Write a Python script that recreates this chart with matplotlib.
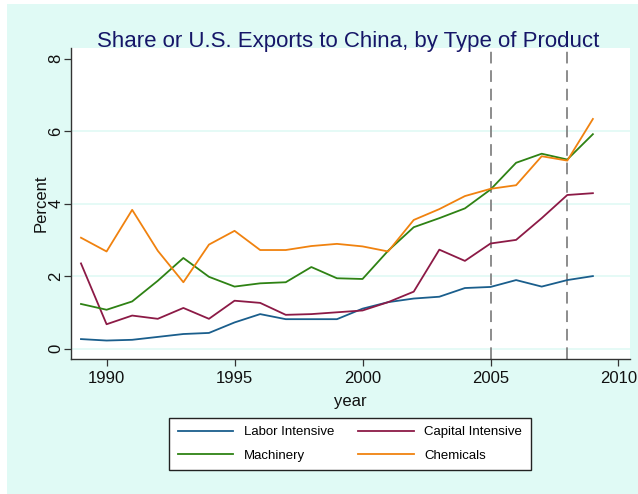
import numpy as np
from matplotlib import pyplot as plt
from matplotlib.patches import Rectangle

plt.rcParams['font.family'] = ['Liberation Sans', 'DejaVu Sans']

years = np.arange(1989, 2010)

labor = [0.26, 0.22, 0.24, 0.32, 0.40, 0.43, 0.72, 0.95, 0.81, 0.81, 0.81,
         1.10, 1.28, 1.38, 1.43, 1.67, 1.70, 1.89, 1.71, 1.89, 2.00]
capital = [2.35, 0.67, 0.91, 0.82, 1.12, 0.82, 1.32, 1.26, 0.93, 0.95, 1.00,
           1.05, 1.28, 1.57, 2.73, 2.42, 2.90, 3.00, 3.60, 4.24, 4.29]
machinery = [1.23, 1.07, 1.30, 1.87, 2.50, 1.98, 1.71, 1.80, 1.83, 2.25, 1.94,
             1.92, 2.70, 3.35, 3.60, 3.87, 4.39, 5.13, 5.38, 5.22, 5.92]
chemicals = [3.06, 2.68, 3.83, 2.70, 1.83, 2.87, 3.25, 2.72, 2.72, 2.83, 2.89,
             2.82, 2.68, 3.55, 3.85, 4.21, 4.41, 4.51, 5.31, 5.19, 6.34]

vlines = [2005, 2008]
xticks = [1990, 1995, 2000, 2005, 2010]
yticks = [0, 2, 4, 6, 8]
grid_y = [0, 2, 4, 6]

bg = '#e0faf5'

fig = plt.figure(figsize=(6.38, 4.94), dpi=100)
fig.patch.set_facecolor('white')
fig.patches.append(Rectangle((7/638, 0), 1, 1 - 4/494, transform=fig.transFigure,
                             facecolor=bg, edgecolor='none', zorder=-10))

ax = fig.add_axes([71/638, 1 - 359/494, 559/638, 311/494])
ax.set_facecolor('white')

for g in grid_y:
    ax.axhline(g, color=bg, lw=1.2, zorder=0)
for v in vlines:
    ax.axvline(v, color='#8c8c8c', lw=1.4, ls=(0, (6, 3.5)), zorder=1)

l1, = ax.plot(years, labor, color='#1a5e8c', lw=1.3, label='Labor Intensive')
l2, = ax.plot(years, capital, color='#8c1a46', lw=1.3, label='Capital Intensive')
l3, = ax.plot(years, machinery, color='#2e8214', lw=1.3, label='Machinery')
l4, = ax.plot(years, chemicals, color='#f0820f', lw=1.3, label='Chemicals')

ax.set_xlim(1988.61, 2010.45)
ax.set_ylim(-0.29, 8.30)
ax.set_xticks(xticks)
ax.set_yticks(yticks)
ax.spines['top'].set_visible(False)
ax.spines['right'].set_visible(False)
for s in ['left', 'bottom']:
    ax.spines[s].set_color('#333333')
    ax.spines[s].set_linewidth(1.0)
ax.tick_params(direction='out', length=5, width=0.9, color='#333333',
               labelsize=12, labelcolor='#111111')
ax.tick_params(axis='y', pad=0.5)
for lab in ax.get_yticklabels():
    lab.set_rotation(90)
    lab.set_va('center')
ax.set_xlabel('year', fontsize=12, color='#111111', labelpad=6)
ax.set_ylabel('Percent', fontsize=12, color='#111111', labelpad=0)

fig.text(348/638, 1 - 41/494, 'Share or U.S. Exports to China, by Type of Product',
         ha='center', va='center', fontsize=16, color='#161668')

# Stata fills the legend row by row
handles = [l1, l3, l2, l4]
leg = fig.legend(handles=handles, labels=[h.get_label() for h in handles],
                 loc='center', bbox_to_anchor=(350/638, 1 - 444/494), ncol=2,
                 fontsize=9.5, frameon=True, fancybox=False, edgecolor='#222222',
                 framealpha=1, handlelength=4.2, columnspacing=1.8,
                 handletextpad=0.8, borderpad=0.65, labelspacing=0.85)
leg.get_frame().set_linewidth(1.0)

fig.savefig('out.png', dpi=100, facecolor=fig.get_facecolor())
